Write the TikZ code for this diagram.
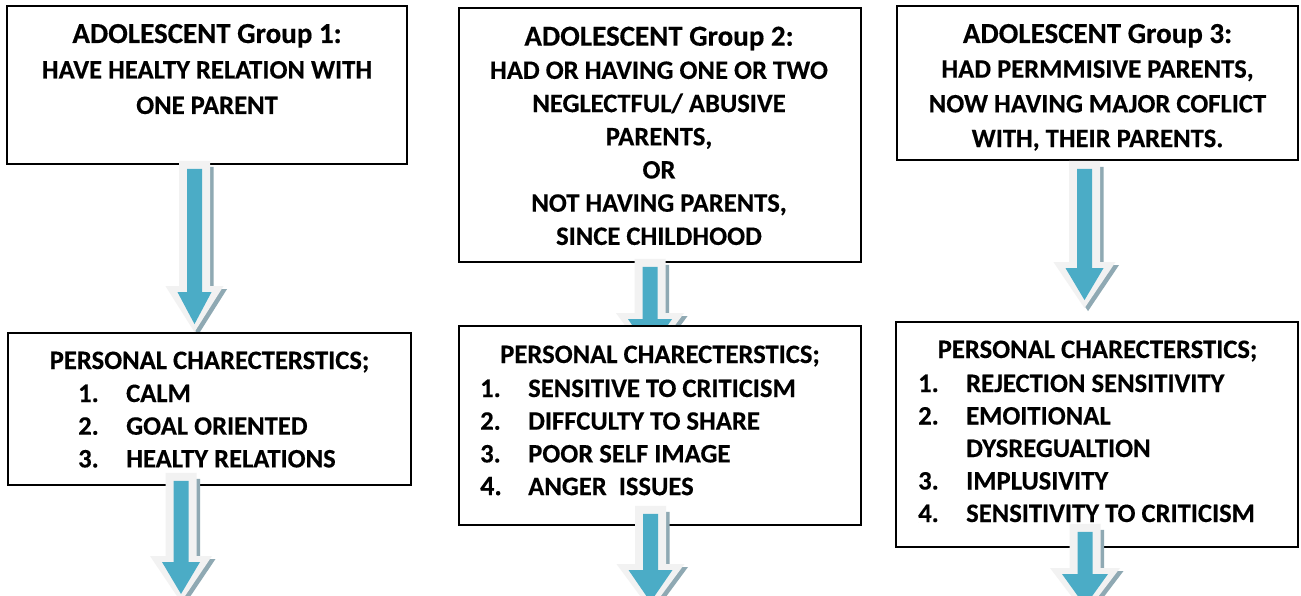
\documentclass[tikz,border=0pt]{standalone}
\usepackage{fontspec}
\setmainfont{Carlito}[BoldFeatures={FakeBold=0.35}]
\usepackage{array}
\usetikzlibrary{calc}

\definecolor{arrowblue}{HTML}{4BACC6}
\definecolor{arrowrim}{HTML}{F2F2F2}
\definecolor{arrowshade}{HTML}{8FA9B3}

\pgfdeclarelayer{boxes}
\pgfdeclarelayer{links}
\pgfdeclarelayer{front}
\pgfsetlayers{boxes,links,main,front}

% outline of a downward block arrow:
% #1 axis x, #2 tail y, #3 tip y, #4 half shaft width, #5 half head width,
% #6 head length, #7 tail inset
\newcommand\arrowpath[7]{%
  ({#1-(#4)},{#2-(#7)}) -- ({#1+(#4)},{#2-(#7)}) -- ({#1+(#4)},{#3+(#6)})
  -- ({#1+(#5)},{#3+(#6)}) -- ({#1},{#3}) -- ({#1-(#5)},{#3+(#6)})
  -- ({#1-(#4)},{#3+(#6)}) -- cycle}

% block arrow with a light rim and a hard shadow, from #1 down to #2,
% #3 = half width of the head
\newcommand\fatarrow[3]{%
  \path[fill=arrowshade] let \p1=(#1), \p2=(#2) in
    \arrowpath{\x1+3.5pt}{\y1-6pt}{\y2-3pt}{15.5pt}{#3pt}{46pt}{0pt};
  \path[fill=arrowrim] let \p1=(#1), \p2=(#2) in
    \arrowpath{\x1}{\y1}{\y2}{15.5pt}{#3pt}{46pt}{0pt};
  \path[fill=arrowblue] let \p1=(#1), \p2=(#2) in
    \arrowpath{\x1}{\y1}{\y2+8pt}{7.5pt}{#3pt-12pt}{32pt}{8pt};
}

\newcommand\titlesize{\fontsize{29}{33}\selectfont}
\newcommand\bodysize[1]{\fontsize{26.6}{#1}\selectfont}

\tikzset{
  box/.style={draw=black, line width=1.8pt, fill=white, rectangle, inner sep=0pt},
  txt/.style={inner sep=0pt, anchor=base},
  listtxt/.style={inner sep=0pt, anchor=base west},
}

\begin{document}
\begin{tikzpicture}[x=1pt, y=-1pt]
\path[use as bounding box] (0,0) rectangle (1301,596);

% ---------- group boxes ----------
\begin{pgfonlayer}{boxes}
  \fill[white] (0,0) rectangle (1301,596);

  \node[box, minimum width=400pt, minimum height=158pt] (g1) at (207,85) {};
  \node[txt, font=\bfseries\bodysize{35.5}] (g1t) at (207,43)
    {\begin{tabular}[t]{@{}c@{}}{\titlesize ADOLESCENT Group 1:}\\
     HAVE HEALTY RELATION WITH\\ ONE PARENT\end{tabular}};

  \node[box, minimum width=402pt, minimum height=254pt] (g2) at (660,135) {};
  \node[txt, font=\bfseries\bodysize{33.2}] (g2t) at (659,45.7)
    {\begin{tabular}[t]{@{}c@{}}{\titlesize ADOLESCENT Group 2:}\\
     HAD OR HAVING ONE OR TWO\\ NEGLECTFUL/ ABUSIVE\\ PARENTS,\\ OR\\
     NOT HAVING PARENTS,\\ SINCE CHILDHOOD\end{tabular}};

  \node[box, minimum width=401pt, minimum height=154pt] (g3) at (1097.5,83) {};
  \node[txt, font=\bfseries\bodysize{34.7}] (g3t) at (1097.5,43)
    {\begin{tabular}[t]{@{}c@{}}{\titlesize ADOLESCENT Group 3:}\\
     HAD PERMMISIVE PARENTS,\\ NOW HAVING MAJOR COFLICT\\
     WITH, THEIR PARENTS.\end{tabular}};
\end{pgfonlayer}

% ---------- characteristics boxes ----------
\node[box, minimum width=403pt, minimum height=152pt] (p1) at (209.5,409) {};
\node[txt, font=\bfseries\bodysize{32.7}] (p1h) at (209.5,369) {PERSONAL CHARECTERSTICS;};
\node[listtxt, font=\bfseries\bodysize{32.7}] (p1l) at (78,402)
  {\begin{tabular}[t]{@{}p{48pt}@{}l@{}}
   1. & CALM\\ 2. & GOAL ORIENTED\\ 3. & HEALTY RELATIONS\end{tabular}};

\node[box, minimum width=402pt, minimum height=199pt] (p2) at (660,425.5) {};
\node[txt, font=\bfseries\bodysize{32.7}] (p2h) at (660,363) {PERSONAL CHARECTERSTICS;};
\node[listtxt, font=\bfseries\bodysize{32.7}] (p2l) at (480,397)
  {\begin{tabular}[t]{@{}p{48pt}@{}l@{}}
   1. & SENSITIVE TO CRITICISM\\ 2. & DIFFCULTY TO SHARE\\
   3. & POOR SELF IMAGE\\ {\fontsize{28}{32}\selectfont 4.} & ANGER\ \ ISSUES\end{tabular}};

\node[box, minimum width=402pt, minimum height=225pt] (p3) at (1097,434.5) {};
\node[txt, font=\bfseries\bodysize{32.5}] (p3h) at (1097.5,358) {PERSONAL CHARECTERSTICS;};
\node[listtxt, font=\bfseries\bodysize{32.5}] (p3l) at (918,392)
  {\begin{tabular}[t]{@{}p{48pt}@{}l@{}}
   1. & REJECTION SENSITIVITY\\ 2. & EMOITIONAL\\ & DYSREGUALTION\\
   3. & IMPLUSIVITY\\ 4. & SENSITIVITY TO CRITICISM\end{tabular}};

% ---------- arrows between the boxes ----------
\coordinate (a1s) at ([shift={(-12.5,-4)}]g1.south);
\coordinate (a1e) at ([shift={(-15,0)}]p1.north);
\coordinate (a2s) at ([shift={(-10,-4)}]g2.south);
\coordinate (a2e) at ([shift={(-10,34)}]p2.north);
\coordinate (a3s) at ([shift={(-13,0)}]g3.south);
\coordinate (a3e) at ([shift={(-12.5,-13)}]p3.north);

\begin{pgfonlayer}{links}
  \fatarrow{a1s}{a1e}{29}
  \fatarrow{a2s}{a2e}{34}
  \fatarrow{a3s}{a3e}{31}
\end{pgfonlayer}

% ---------- arrows leaving the lower boxes ----------
\coordinate (a4s) at ([shift={(-28.5,-13)}]p1.south);
\coordinate (a4e) at (181,602);
\coordinate (a5s) at ([shift={(-9.5,-20)}]p2.south);
\coordinate (a5e) at (650.5,610);
\coordinate (a6s) at ([shift={(-12,-24)}]p3.south);
\coordinate (a6e) at (1085,614);

\begin{pgfonlayer}{front}
  \fatarrow{a4s}{a4e}{31}
  \fatarrow{a5s}{a5e}{34}
  \fatarrow{a6s}{a6e}{35}
\end{pgfonlayer}
\end{tikzpicture}
\end{document}
